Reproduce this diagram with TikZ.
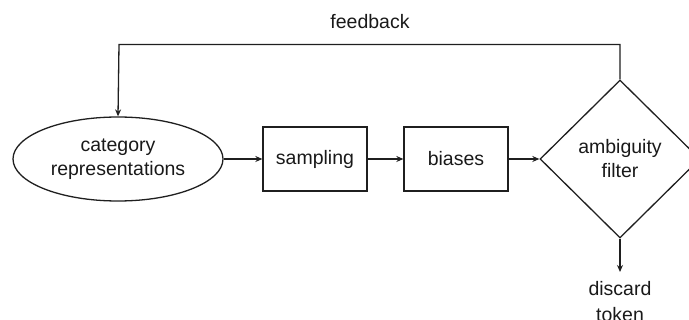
\documentclass[tikz,border=0pt]{standalone}
\usepackage{fontspec}
\setmainfont{Liberation Sans}
\usetikzlibrary{shapes.geometric,arrows.meta}
\begin{document}
\begin{tikzpicture}[x=1pt,y=-1pt,
  every node/.style={font=\fontsize{19.5}{24}\selectfont, align=center, text=black!90},
  lin/.style={draw=black!88, line width=1.3pt},
  arr/.style={lin, -{Stealth[length=7pt,width=6pt]}},
  boxnode/.style={lin, rectangle, minimum width=104pt, minimum height=64pt, inner sep=0pt},
  ellnode/.style={lin, ellipse, minimum width=210pt, minimum height=84pt, inner sep=0pt},
  dianode/.style={lin, diamond, minimum width=160pt, minimum height=158pt, inner sep=0pt}]
\useasboundingbox (0,0) rectangle (689,320);
\node[ellnode] (cat) at (118,159) {category\\representations};
\node[boxnode] (samp) at (315,159) {sampling};
\node[boxnode] (bias) at (456,159) {biases};
\node[dianode] (amb) at (620,159) {ambiguity\\filter};
\node[font=\fontsize{19.5}{26}\selectfont] (disc) at (620,301.5) {discard\\token};
\node (fb) at (370,22) {feedback};
\coordinate (dend) at (620,272);
\draw[arr] (cat.east) -- (samp.west);
\draw[arr] (samp.east) -- (bias.west);
\draw[arr] (bias.east) -- (amb.west);
\draw[arr] (amb.north) |- (119,44.5) -- (cat.north);
\draw[arr] (amb.south) -- (dend);
\end{tikzpicture}
\end{document}
